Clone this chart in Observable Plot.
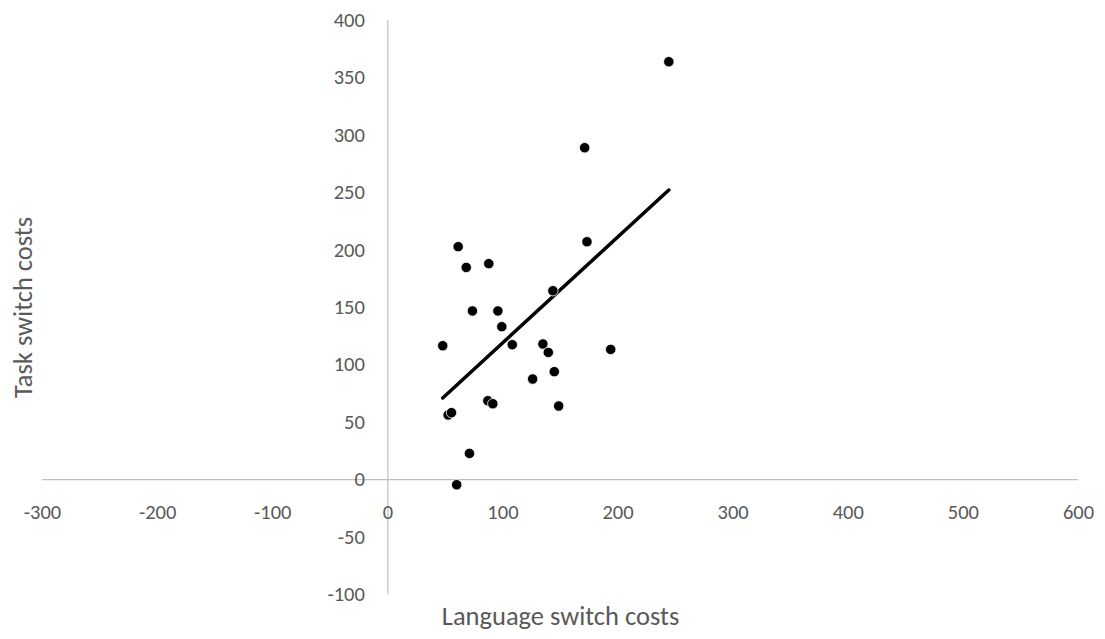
<!DOCTYPE html>
<html>
<head>
<meta charset="utf-8">
<script src="https://cdn.jsdelivr.net/npm/d3@7"></script>
<script src="https://cdn.jsdelivr.net/npm/@observablehq/plot@0.6"></script>
<style>
  html, body { margin: 0; padding: 0; background: #fff; }
</style>
</head>
<body>
<div id="chart"></div>
<script>
// Language switch costs (x) and task switch costs (y) per participant
const languageCosts = [244.1, 171.0, 61.1, 68.1, 87.7, 173.0, 143.4, 73.5, 95.6, 99.0, 47.7, 108.1,
  134.7, 139.4, 193.6, 144.6, 125.8, 86.9, 91.2, 148.4, 52.4, 55.3, 70.9, 59.8];
const taskCosts = [364.1, 289.2, 203.0, 184.9, 188.2, 207.3, 164.6, 147.0, 147.0, 133.3, 116.7, 117.6,
  118.2, 110.9, 113.5, 94.1, 87.7, 68.8, 66.2, 64.2, 56.4, 58.4, 22.9, -4.4];
const xTicks = [-300, -200, -100, 0, 100, 200, 300, 400, 500, 600];
const yTicks = [-100, -50, 0, 50, 100, 150, 200, 250, 300, 350, 400];
const xTitle = "Language switch costs";
const yTitle = "Task switch costs";

const data = languageCosts.map((x, i) => ({x, y: taskCosts[i]}));

const font = "Carlito, Lato, 'Open Sans', sans-serif";
const gray = "#595959";
const axisGray = "#bfbfbf";

const chart = Plot.plot({
  width: 1105,
  height: 639,
  marginLeft: 42,
  marginRight: 27,
  marginTop: 20,
  marginBottom: 45,
  style: {fontFamily: font, background: "#fff", overflow: "visible"},
  x: {domain: [-300, 600], axis: null},
  y: {domain: [-100, 400], axis: null},
  marks: [
    Plot.ruleY([0], {x1: -300, x2: 600, stroke: axisGray, strokeWidth: 1.2}),
    Plot.ruleX([0], {y1: -100, y2: 400, stroke: axisGray, strokeWidth: 1.2}),
    Plot.text(xTicks, {x: d => d, y: 0, dy: 33, text: d => String(d), fill: gray, fontSize: 20.5}),
    Plot.text(yTicks, {x: 0, y: d => d, dx: -23, textAnchor: "end", text: d => String(d), fill: gray, fontSize: 20.5}),
    Plot.linearRegressionY(data, {x: "x", y: "y", ci: 0, stroke: "black", strokeWidth: 3.5, strokeLinecap: "round"}),
    Plot.dot(data, {x: "x", y: "y", r: 5.2, fill: "black", stroke: "white", strokeWidth: 0.8}),
    Plot.text([xTitle], {frameAnchor: "bottom", x: 150, dy: 22, lineAnchor: "middle", textAnchor: "middle", text: d => d, fill: gray, fontSize: 26.5}),
    Plot.text([yTitle], {frameAnchor: "left", y: 150, dx: -19, rotate: -90, lineAnchor: "middle", textAnchor: "middle", text: d => d, fill: gray, fontSize: 26.5})
  ]
});
document.getElementById("chart").append(chart);
</script>
</body>
</html>
